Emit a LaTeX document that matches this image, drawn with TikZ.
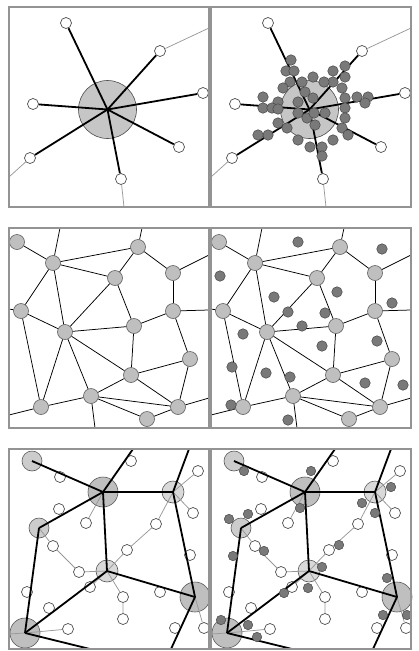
\documentclass[tikz,border=0pt]{standalone}
\usepackage{tikz}
\usetikzlibrary{positioning}

\begin{document}
\begin{tikzpicture}[
    x=1pt, y=-1pt,
    panel/.style={draw=gray!85, line width=1.2pt},
    sensor/.style={circle, draw=gray!60!black, fill=white, line width=0.7pt,
                   minimum size=11pt, inner sep=0pt},
    hub/.style={circle, draw=gray!60!black, fill=gray!45, line width=0.6pt,
                minimum size=58pt, inner sep=0pt},
    site/.style={circle, draw=gray!75!black, fill=gray!50, line width=0.6pt,
                 minimum size=15pt, inner sep=0pt},
    head/.style={circle, draw=gray!70!black, line width=0.6pt, inner sep=0pt},
    blob/.style={circle, draw=gray!55!black, fill=gray!95!black, line width=0.5pt,
                 minimum size=10.5pt, inner sep=0pt},
    spoke/.style={line width=1.8pt},
    link/.style={line width=0.75pt},
    faint/.style={draw=gray!80, line width=0.75pt}
]
\useasboundingbox (0,0) rectangle (419,651);

% the same three networks on the left and on the right
\foreach \p/\dx in {a/0, b/202} {
  \begin{scope}[xshift=\dx pt, name prefix=\p-]
    % star round one hub
    \node[hub] (hub) at (107.5,109.5) {};
    \foreach \n/\x/\y in {1/66/23, 2/160/51, 3/203/93, 4/33/104,
                          5/30/158, 6/179/147, 7/121/179}
      \node[sensor] (s\n) at (\x,\y) {};
    \coordinate (e2) at (209,28);
    \coordinate (e5) at (9,177);
    \coordinate (e7) at (124,207);
    \foreach \n in {1,...,7}
      \draw[spoke] (hub.center) -- (s\n);
    \draw[faint] (s2) -- (e2) (s5) -- (e5) (s7) -- (e7);

    % mesh of sites
    \foreach \n/\x/\y in {A/17/242, B/53/263, C/138/247, D/115/278, E/173/273,
                          F/21/311, G/65/332, H/134/326, I/173/311, J/190/359,
                          K/131/375, L/91/396, M/41/407, N/178/407, O/147/419}
      \node[site] (\n) at (\x,\y) {};
    \coordinate (tB) at (60,228);
    \coordinate (tC) at (142,228);
    \coordinate (rE) at (209,255);
    \coordinate (rI) at (209,310);
    \coordinate (lF) at (9,309);
    \coordinate (rN) at (209,398);
    \coordinate (bL) at (95,428);
    \coordinate (lM) at (9,415);
    \foreach \u/\v in {A/B, B/tB, B/C, B/D, B/F, B/G, C/tC, C/D, C/E, E/rE,
                       E/I, I/rI, I/H, I/J, D/H, D/G, F/lF, F/G, F/M, G/H,
                       G/M, G/L, G/K, H/K, K/J, K/L, K/N, J/N, N/rN, L/N,
                       L/O, L/bL, M/lM, O/N, M/L}
      \draw[link] (\u) -- (\v);

    % clusters with heads
    \node[head, minimum size=20pt, fill=gray!40] (P1) at (32,461) {};
    \node[head, minimum size=30pt, fill=gray!50] (P2) at (103,492) {};
    \node[head, minimum size=22pt, fill=gray!30] (P3) at (173,492) {};
    \node[head, minimum size=20pt, fill=gray!40] (P4) at (39,528) {};
    \node[head, minimum size=22pt, fill=gray!30] (P5) at (107,571) {};
    \node[head, minimum size=30pt, fill=gray!50] (P6) at (195,597) {};
    \node[head, minimum size=30pt, fill=gray!50] (P7) at (25,633) {};
    \foreach \n/\x/\y in {1/60/477, 2/131/461, 3/198/471, 4/193/513, 5/59/509,
                          6/86/523, 7/156/524, 8/127/550, 9/53/546, 10/79/572,
                          11/190/555, 12/90/587, 13/27/592, 14/123/597, 15/123/619,
                          16/160/592, 17/49/608, 18/68/629, 19/175/628, 20/204/628}
      \node[sensor] (w\n) at (\x,\y) {};
    \coordinate (t2) at (133,449);
    \coordinate (t3) at (189,449);
    \coordinate (b7) at (90,649);
    \coordinate (b6) at (171,649);
    \coordinate (l7) at (9,634);
    \foreach \u/\v in {P3/w3, P3/w4, P2/w6, P3/w7, P5/w8, P4/w9, P5/w10,
                       P5/w12, P5/w14, P7/w18, P6/w20, P7/l7}
      \draw[faint] (\u.center) -- (\v);
    \draw[faint] (w7) -- (w8) (w9) -- (w10) (w14) -- (w15);
    \foreach \u/\v in {P1/P2, P2/P3, P2/t2, P3/t3, P2/P4, P2/P5, P3/P6,
                       P4/P7, P5/P6, P5/P7, P7/b7, P6/b6}
      \draw[spoke] (\u.center) -- (\v.center);
  \end{scope}
}

% members gathered round the heads (right column only)
\begin{scope}[xshift=202pt, name prefix=b-]
  \foreach \x/\y [count=\i] in {89/60, 84/71, 92/71, 111/77, 131/71, 143/66,
        143/77, 131/82, 122/82, 88/82, 100/82, 81/88, 103/92, 111/98, 140/88,
        61/97, 76/102, 96/102, 61/108, 70/108, 76/109, 96/113, 105/118, 112/113,
        123/113, 143/98, 155/97, 166/97, 163/103, 143/108, 143/118, 140/128,
        146/135, 76/123, 85/128, 66/135, 56/135, 96/140, 113/125, 131/140,
        108/147, 120/147, 120/156}
    \node[blob] (sd\i) at (\x,\y) {};
  \foreach \x/\y [count=\i] in {96/242, 180/249, 18/276, 72/297, 135/292,
        190/303, 86/312, 123/313, 100/326, 41/334, 175/341, 120/346, 30/367,
        64/373, 88/377, 163/383, 201/385, 29/405, 86/420}
    \node[blob] (md\i) at (\x,\y) {};
  \foreach \x/\y [count=\i] in {42/471, 109/471, 189/487, 160/503, 98/508,
        173/513, 46/514, 27/519, 137/545, 31/556, 62/551, 120/567, 106/588,
        82/593, 185/578, 181/615, 205/615, 19/620, 46/625, 55/637}
    \node[blob, minimum size=9.5pt] (cd\i) at (\x,\y) {};
\end{scope}

% frames
\foreach \dx in {0,202}
  \foreach \y in {7,228,449}
    \draw[panel] (9+\dx,\y) rectangle ++(200,200);
\end{tikzpicture}
\end{document}
